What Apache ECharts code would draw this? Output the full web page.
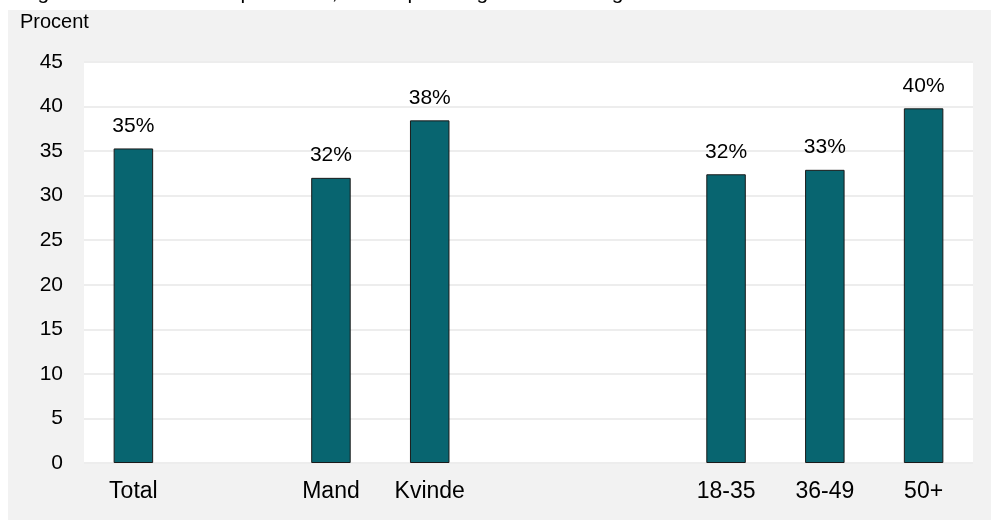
<!DOCTYPE html>
<html>
<head>
<meta charset="utf-8">
<script src="https://cdn.jsdelivr.net/npm/echarts@6/dist/echarts.min.js"></script>
<style>
html,body{margin:0;padding:0;background:#fff;}
#c{width:991px;height:520px;}
</style>
</head>
<body>
<div id="c"></div>
<script>
const categories = ['Total', '', 'Mand', 'Kvinde', ' ', '  ', '18-35', '36-49', '50+'];
const values = [35.3, '-', 32.0, 38.45, '-', '-', 32.4, 32.9, 39.8];
const yTicks = [0, 5, 10, 15, 20, 25, 30, 35, 40, 45];
const yAxisTitle = 'Procent';
const chartTitle = 'Figur 1: Andel der har oplevet det, fordelt på kategorier af køn og alder';

const chart = echarts.init(document.getElementById('c'), null, {renderer: 'canvas'});
const font = 'Arial, "Liberation Sans", sans-serif';
chart.setOption({
  animation: false,
  backgroundColor: '#ffffff',
  graphic: [
    {type: 'rect', z: -10, shape: {x: 8, y: 10, width: 983, height: 510}, style: {fill: '#f2f2f2'}},
    {type: 'text', left: 20, top: 12, style: {text: yAxisTitle, font: '20px ' + font, fill: '#000'}},
    {type: 'text', x: 20, y: 4, style: {text: chartTitle, font: '21px ' + font, fill: '#000', verticalAlign: 'bottom'}}
  ],
  grid: {left: 84, right: 18, top: 62, bottom: 57, show: true, backgroundColor: '#ffffff', borderWidth: 0},
  xAxis: {
    type: 'category',
    data: categories,
    axisLine: {show: false},
    axisTick: {show: false},
    axisLabel: {color: '#000', fontSize: 23, fontFamily: font, margin: 17, interval: 0}
  },
  yAxis: {
    type: 'value',
    min: yTicks[0],
    max: yTicks[yTicks.length - 1],
    interval: 5,
    axisLine: {show: false},
    axisTick: {show: false},
    axisLabel: {color: '#000', fontSize: 21, fontFamily: font, margin: 21},
    splitLine: {lineStyle: {color: '#ededed', width: 2}}
  },
  series: [{
    type: 'bar',
    data: values,
    barWidth: '40%',
    itemStyle: {color: '#086570', borderColor: '#1a1a1a', borderWidth: 1},
    label: {
      show: true,
      position: 'top',
      distance: 12,
      color: '#000',
      fontSize: 21,
      fontFamily: font,
      formatter: p => Math.round(p.value) + '%'
    }
  }]
});
</script>
</body>
</html>
